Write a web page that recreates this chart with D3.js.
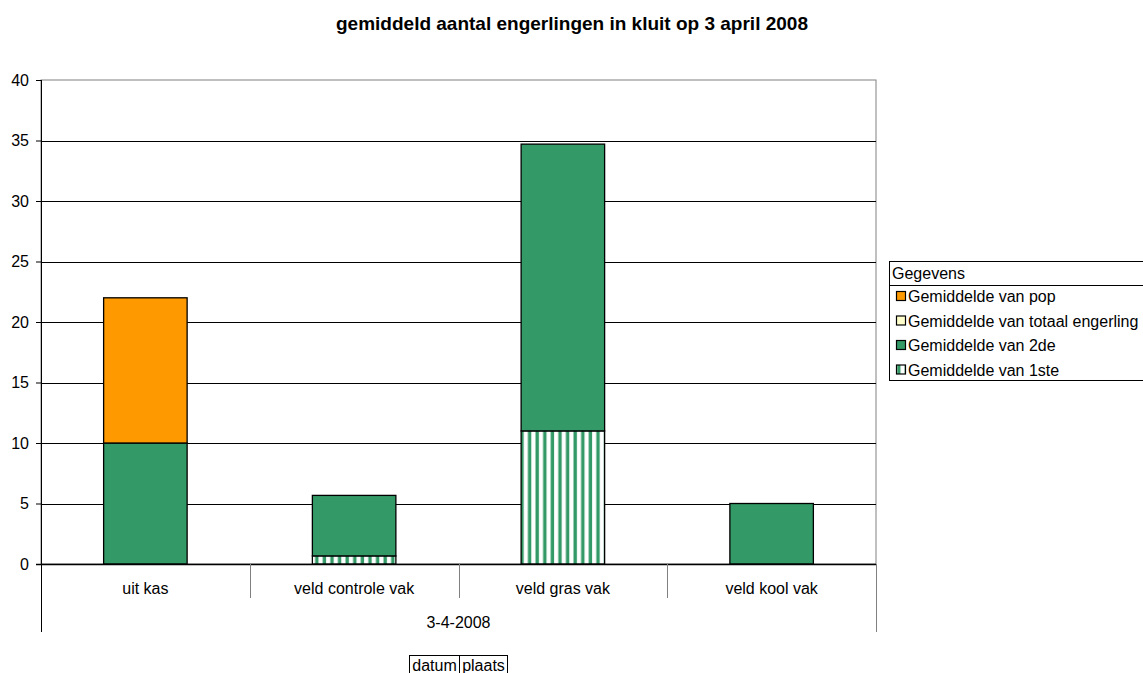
<!DOCTYPE html>
<html>
<head>
<meta charset="utf-8">
<script src="https://d3js.org/d3.v7.min.js"></script>
<style>
  body { margin: 0; background: #fff; }
  text { font-family: "Liberation Sans", Arial, sans-serif; }
</style>
</head>
<body>
<script>
var width = 1143;
var height = 673;

var categories = ["uit kas", "veld controle vak", "veld gras vak", "veld kool vak"];
var eerste = [0, 0.67, 11, 0];
var tweede = [10, 5, 23.7, 5];
var totaal = [0, 0, 0, 0];
var pop = [12, 0, 0, 0];
var seriesNames = ["Gemiddelde van 1ste", "Gemiddelde van 2de", "Gemiddelde van totaal engerling", "Gemiddelde van pop"];
var yTicks = [0, 5, 10, 15, 20, 25, 30, 35, 40];

var margin = { left: 41, right: 267, top: 80, bottom: 109 };
var plotW = width - margin.left - margin.right;
var plotH = height - margin.top - margin.bottom;
var fs = "16px";

var svg = d3.select("body").append("svg")
    .attr("width", width)
    .attr("height", height);

var defs = svg.append("defs");
var pat = defs.append("pattern")
    .attr("id", "stripes")
    .attr("patternUnits", "userSpaceOnUse")
    .attr("width", 7.6)
    .attr("height", 10);
pat.append("rect").attr("width", 7.6).attr("height", 10).attr("fill", "#fff");
pat.append("rect").attr("x", 0.5).attr("width", 3.4).attr("height", 10).attr("fill", "#339966");

var fills = ["url(#stripes)", "#339966", "#FFFFCC", "#FF9900"];

svg.append("text")
    .attr("x", 572)
    .attr("y", 30)
    .attr("text-anchor", "middle")
    .style("font-size", "19px")
    .style("font-weight", "bold")
    .text("gemiddeld aantal engerlingen in kluit op 3 april 2008");

var g = svg.append("g").attr("transform", "translate(" + margin.left + "," + margin.top + ")");

var x = d3.scaleBand().domain(categories).range([0, plotW]).paddingInner(0.6).paddingOuter(0.3);
var xCat = d3.scaleBand().domain(categories).range([0, plotW]);
var y = d3.scaleLinear().domain([0, 40]).range([plotH, 0]);

// plot border
g.append("rect")
    .attr("width", plotW).attr("height", plotH)
    .attr("fill", "none").attr("stroke", "#808080").attr("stroke-width", 1);

// gridlines
g.selectAll(".grid").data(yTicks.filter(function(d) { return d > 0 && d < 40; }))
    .enter().append("line")
    .attr("x1", 0).attr("x2", plotW)
    .attr("y1", function(d) { return Math.round(y(d)) + 0.5; })
    .attr("y2", function(d) { return Math.round(y(d)) + 0.5; })
    .attr("stroke", "#000").attr("stroke-width", 1);

// stacked bars
var rows = categories.map(function(c, i) {
    return { cat: c, s0: eerste[i], s1: tweede[i], s2: totaal[i], s3: pop[i] };
});
var stack = d3.stack().keys(["s0", "s1", "s2", "s3"]);
var stacked = stack(rows);

stacked.forEach(function(layer, li) {
    g.selectAll(".bar" + li).data(layer.filter(function(d) { return d[1] - d[0] > 0; }))
        .enter().append("rect")
        .attr("x", function(d) { return x(d.data.cat); })
        .attr("width", x.bandwidth())
        .attr("y", function(d) { return y(d[1]); })
        .attr("height", function(d) { return y(d[0]) - y(d[1]); })
        .attr("fill", fills[li])
        .attr("stroke", "#000")
        .attr("stroke-width", 1.3);
});

// y axis
var yAxis = d3.axisLeft(y).tickValues(yTicks).tickSize(5).tickPadding(7);
var ya = g.append("g").call(yAxis);
ya.select(".domain").remove();
ya.selectAll("line").attr("stroke", "#000");
ya.selectAll("text").style("font-size", fs).attr("fill", "#000");
g.append("line").attr("x1", 0.5).attr("x2", 0.5).attr("y1", 0).attr("y2", plotH + 68)
    .attr("stroke", "#000");
g.append("line").attr("x1", plotW + 0.5).attr("x2", plotW + 0.5).attr("y1", plotH).attr("y2", plotH + 68)
    .attr("stroke", "#808080");
g.append("line").attr("x1", -5).attr("x2", plotW).attr("y1", plotH + 0.5).attr("y2", plotH + 0.5)
    .attr("stroke", "#000").attr("stroke-width", 1.5);

// category axis
g.selectAll(".catdiv").data(categories.slice(1))
    .enter().append("line")
    .attr("x1", function(d) { return Math.round(xCat(d)) + 0.5; })
    .attr("x2", function(d) { return Math.round(xCat(d)) + 0.5; })
    .attr("y1", plotH).attr("y2", plotH + 34)
    .attr("stroke", "#808080");
g.selectAll(".catlab").data(categories)
    .enter().append("text")
    .attr("x", function(d) { return xCat(d) + xCat.bandwidth() / 2; })
    .attr("y", plotH + 30)
    .attr("text-anchor", "middle")
    .style("font-size", fs)
    .text(function(d) { return d; });
g.append("text")
    .attr("x", plotW / 2)
    .attr("y", plotH + 64)
    .attr("text-anchor", "middle")
    .style("font-size", fs)
    .text("3-4-2008");

// field buttons
var btns = [{ t: "datum", x: 409, w: 50 }, { t: "plaats", x: 459, w: 48 }];
btns.forEach(function(b) {
    svg.append("rect").attr("x", b.x + 0.5).attr("y", 655.5).attr("width", b.w).attr("height", 24)
        .attr("fill", "#fff").attr("stroke", "#000");
    svg.append("text").attr("x", b.x + b.w / 2 + 0.5).attr("y", 671)
        .attr("text-anchor", "middle").style("font-size", fs).text(b.t);
});

// legend
var lg = svg.append("g").attr("transform", "translate(889,261)");
lg.append("rect").attr("x", 0.5).attr("y", 0.5).attr("width", 270).attr("height", 119)
    .attr("fill", "#fff").attr("stroke", "#000");
lg.append("line").attr("x1", 0).attr("x2", 270).attr("y1", 24.5).attr("y2", 24.5).attr("stroke", "#000");
lg.append("text").attr("x", 3).attr("y", 18).style("font-size", fs).text("Gegevens");
var legendOrder = [3, 2, 1, 0];
legendOrder.forEach(function(si, i) {
    var yy = 35 + i * 24.5;
    lg.append("rect").attr("x", 7.5).attr("y", yy - 4.5).attr("width", 9).attr("height", 9)
        .attr("fill", fills[si]).attr("stroke", "#000").attr("stroke-width", 1.2);
    lg.append("text").attr("x", 19).attr("y", yy + 6).style("font-size", fs).text(seriesNames[si]);
});
</script>
</body>
</html>
